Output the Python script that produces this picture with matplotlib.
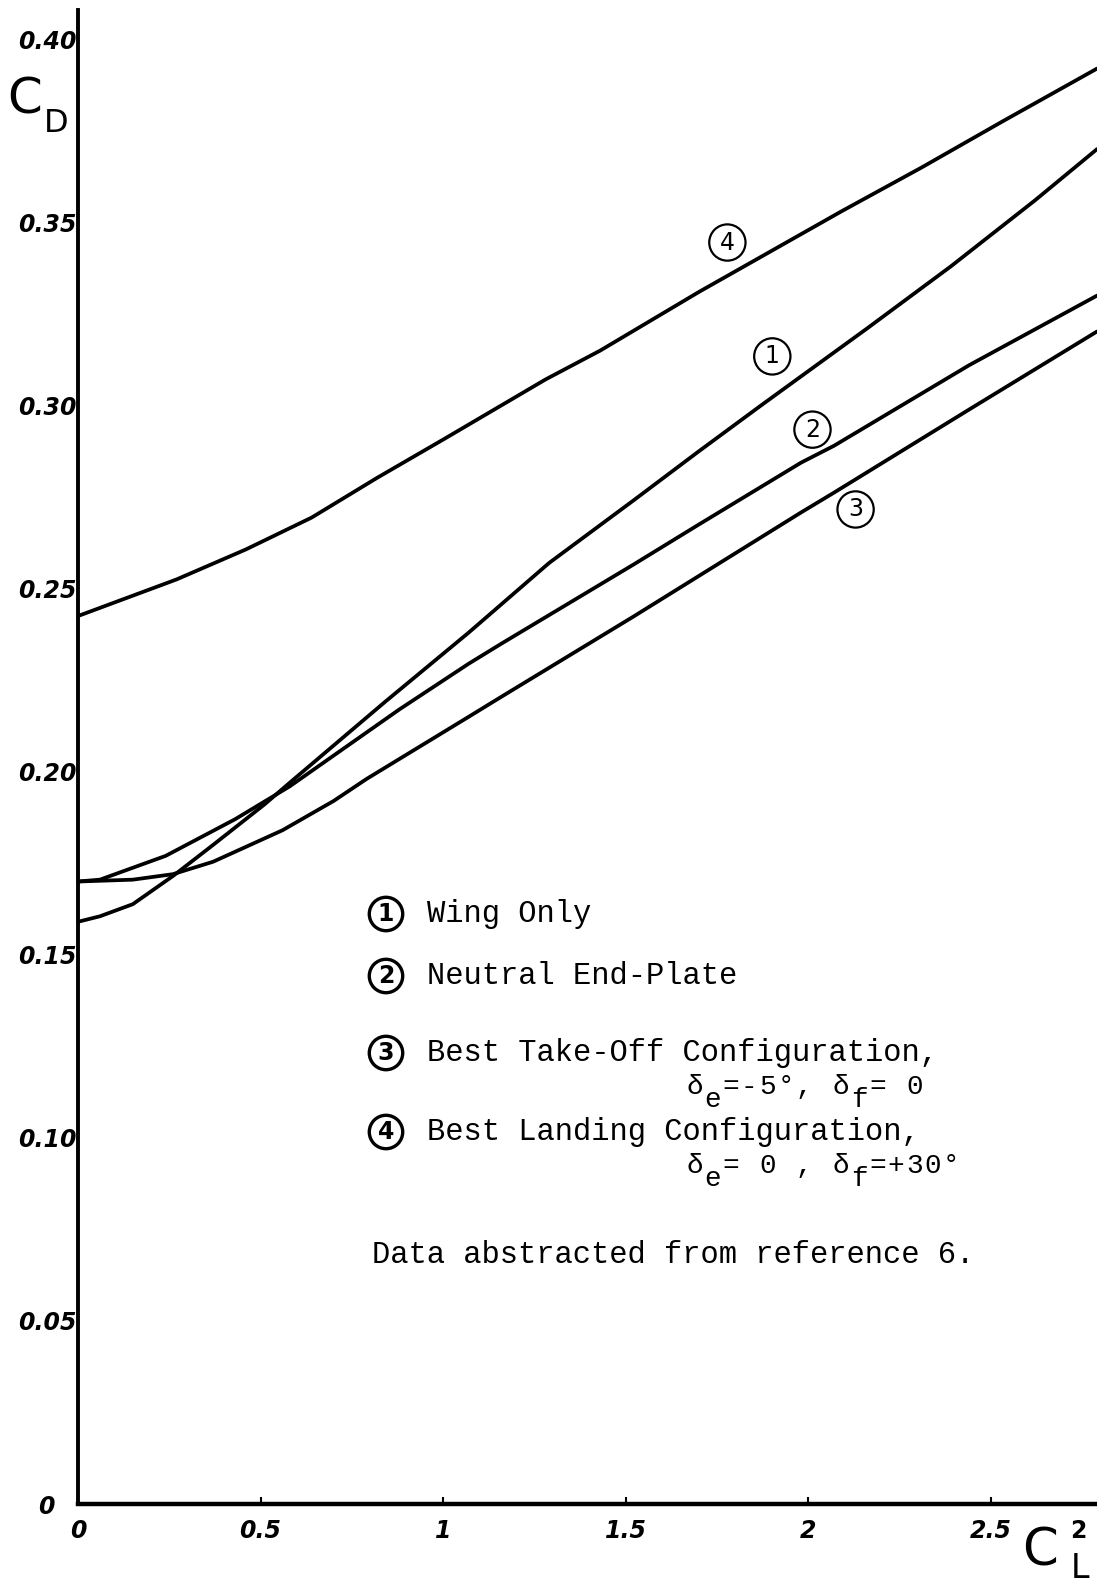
import numpy as np
import matplotlib.pyplot as plt
from matplotlib.transforms import ScaledTranslation

# C_L^2 / C_D readings for the four configurations
x_wing = [0, 0.06, 0.15, 0.26, 0.37, 0.51, 0.58, 0.84, 1.07, 1.29, 1.52, 1.70, 1.87, 2.16, 2.39, 2.62, 2.79]
cd_wing = [0.159, 0.1605, 0.1638, 0.1715, 0.180, 0.191, 0.197, 0.219, 0.238, 0.257, 0.274, 0.2875, 0.300, 0.321, 0.338, 0.356, 0.370]

x_neutral = [0, 0.06, 0.24, 0.43, 0.58, 0.88, 1.07, 1.16, 1.52, 1.70, 1.98, 2.07, 2.44, 2.79]
cd_neutral = [0.170, 0.1705, 0.177, 0.187, 0.196, 0.217, 0.2295, 0.235, 0.2565, 0.2675, 0.2844, 0.289, 0.311, 0.330]

x_takeoff = [0, 0.15, 0.26, 0.37, 0.56, 0.70, 0.79, 1.07, 1.16, 1.52, 1.98, 2.07, 2.44, 2.79]
cd_takeoff = [0.170, 0.1705, 0.172, 0.1754, 0.184, 0.192, 0.198, 0.215, 0.2205, 0.2423, 0.2708, 0.2762, 0.2989, 0.3202]

x_landing = [0, 0.27, 0.46, 0.64, 0.82, 1.0, 1.28, 1.43, 1.70, 2.09, 2.31, 2.53, 2.79]
cd_landing = [0.2425, 0.2525, 0.2607, 0.2694, 0.2803, 0.2907, 0.3071, 0.315, 0.331, 0.353, 0.365, 0.3775, 0.392]

x_ticks = [0, 0.5, 1, 1.5, 2, 2.5]
x_ticklabels = ["0", "0.5", "1", "1.5", "2", "2.5"]
y_ticks = [0, 0.05, 0.10, 0.15, 0.20, 0.25, 0.30, 0.35, 0.40]
y_ticklabels = ["0", "0.05", "0.10", "0.15", "0.20", "0.25", "0.30", "0.35", "0.40"]

# typewriter rows under the configurations (main line / lowered subscripts)
takeoff_main = "\u03b4 =-5\u00b0, \u03b4 = 0"
takeoff_sub = " e       f"
landing_main = "\u03b4 = 0 , \u03b4 =+30\u00b0"
landing_sub = " e       f"

W, H = 1097, 1583
fig = plt.figure(figsize=(W / 100, H / 100), dpi=100)
ax = fig.add_axes([78 / W, 79 / H, (W - 78) / W, (1504 - 10) / H])

lw = 2.7
ax.plot(x_wing, cd_wing, color="black", lw=lw, solid_capstyle="round")
ax.plot(x_neutral, cd_neutral, color="black", lw=lw, solid_capstyle="round")
ax.plot(x_takeoff, cd_takeoff, color="black", lw=lw, solid_capstyle="round")
ax.plot(x_landing, cd_landing, color="black", lw=lw, solid_capstyle="round")

ax.set_xlim(0, 2.79)
ax.set_ylim(0, 0.408)

for s in ["top", "right"]:
    ax.spines[s].set_visible(False)
ax.spines["left"].set_linewidth(2.8)
ax.spines["bottom"].set_linewidth(3.2)

tick_font = dict(fontsize=17, fontweight="bold", fontstyle="italic", family="DejaVu Sans")
ax.set_xticks(x_ticks)
ax.set_xticklabels(x_ticklabels, **tick_font)
ax.set_yticks(y_ticks)
ax.set_yticklabels(y_ticklabels, **tick_font)
ax.tick_params(axis="x", direction="in", length=5, width=1.5, pad=11)
ax.tick_params(axis="y", length=0, pad=1)

# the y "0" sits further left of the axis in the original
zero_lab = ax.get_yticklabels()[0]
zero_lab.set_transform(zero_lab.get_transform() + ScaledTranslation(-0.22, 0, fig.dpi_scale_trans))

# circled labels on the curves
curve_font = dict(fontsize=17, ha="center", va="center", family="DejaVu Sans")
circ = dict(boxstyle="circle,pad=0.26", fc="white", ec="black", lw=1.6)
ax.text(1.778, 0.3445, "4", bbox=circ, **curve_font)
ax.text(1.901, 0.3134, "1", bbox=circ, **curve_font)
ax.text(2.011, 0.2934, "2", bbox=circ, **curve_font)
ax.text(2.129, 0.2716, "3", bbox=circ, **curve_font)


def ftext(px, py, s, **kw):
    fig.text(px / W, 1 - py / H, s, **kw)


# axis titles
ftext(25, 99, "C", fontsize=36, ha="center", va="center")
ftext(56, 123, "D", fontsize=23, ha="center", va="center")
ftext(1040, 1551, "C", fontsize=37, ha="center", va="center")
ftext(1080, 1568, "L", fontsize=24, ha="center", va="center")
ftext(1078, 1531, "2", fontsize=17, ha="center", va="center", fontweight="bold")

# legend block
mono_fam = ["Liberation Mono", "DejaVu Sans Mono"]
mono = dict(fontsize=22, family=mono_fam, va="center", ha="left")
leg_circ = dict(boxstyle="circle,pad=0.2", fc="white", ec="black", lw=2.4)
leg_num = dict(fontsize=17, fontweight="bold", ha="center", va="center")
text_x = 427
for num, py, label in [("1", 914, "Wing Only"),
                       ("2", 976, "Neutral End-Plate"),
                       ("3", 1053, "Best Take-Off Configuration,"),
                       ("4", 1132, "Best Landing Configuration,")]:
    ftext(386, py, num, bbox=leg_circ, **leg_num)
    ftext(text_x, py, label, **mono)

# place the delta rows character by character on the typewriter grid
col_w = 18.33
small_mono = dict(fontsize=20, family=mono_fam, va="center", ha="left")
for row, py in [(takeoff_main, 1087), (takeoff_sub, 1100),
                (landing_main, 1166), (landing_sub, 1179)]:
    for i, ch in enumerate(row):
        if ch != " ":
            ftext(686 + i * col_w, py, ch, **small_mono)

ftext(372, 1255, "Data abstracted from reference 6.", **mono)

fig.savefig("out.png", dpi=100)
